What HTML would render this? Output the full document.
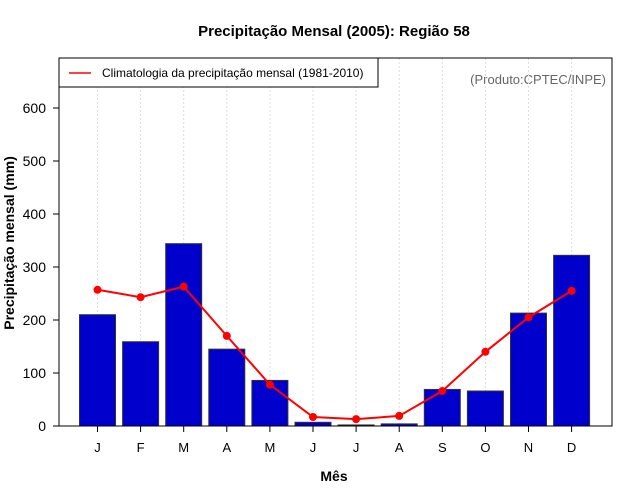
<!DOCTYPE html>
<html><head><meta charset="utf-8"><style>body{margin:0;background:#fff}svg{display:block;font-family:"Liberation Sans",sans-serif}</style></head>
<body>
<svg id="c" width="640" height="500">
<text x="334" y="36" text-anchor="middle" font-size="15" font-weight="bold">Precipitação Mensal (2005): Região 58</text>
<text x="334" y="481" text-anchor="middle" font-size="14" font-weight="bold">Mês</text>
<text transform="translate(14,243) rotate(-90)" text-anchor="middle" font-size="14" font-weight="bold">Precipitação mensal (mm)</text>
<text x="606" y="84" text-anchor="end" font-size="13" fill="#666">(Produto:CPTEC/INPE)</text>
<g id="g"></g>
<rect x="59" y="58" width="553" height="368" fill="none" stroke="#000"/>
<g>
<rect x="59" y="58" width="319" height="29" fill="#fff" stroke="#000"/>
<line x1="69" y1="73" x2="91" y2="73" stroke="red" stroke-width="1.5"/>
<text x="102" y="77" font-size="12">Climatologia da precipitação mensal (1981-2010)</text>
</g>
</svg>
<script>
const months = ["J","F","M","A","M","J","J","A","S","O","N","D"];
const rain2005 = [210,159,344,145,86,7,2,4,69,66,213,322];
const climatology = [257,243,263,170,78,17,13,19,66,140,205,255];
const yTicks = [0,100,200,300,400,500,600];
const NS="http://www.w3.org/2000/svg";
const g=document.getElementById('g');
const x=i=>97.5+i*43.1;
const y=v=>426-v*0.53;
function mk(t,a){const e=document.createElementNS(NS,t);for(const k in a)e.setAttribute(k,a[k]);g.appendChild(e);return e;}
months.forEach((m,i)=>{
  const gl=mk('line',{x1:x(i),x2:x(i),y1:58,y2:426,stroke:'#ddd','stroke-dasharray':'2,2'});
  
  
});
yTicks.forEach(v=>{
  const t=mk('line',{x1:53,x2:59,y1:y(v),y2:y(v),stroke:'#000'});
  
  
  const l=mk('text',{x:46,y:y(v)+5,'text-anchor':'end','font-size':14});
  l.textContent=v;
  
  
});
months.forEach((m,i)=>{
  const b=mk('rect',{x:x(i)-18,y:y(rain2005[i]),width:36,height:rain2005[i]*0.53,fill:'#0000cc',stroke:'#333'});
  
  
  const t=mk('line',{x1:x(i),x2:x(i),y1:426,y2:432,stroke:'#000'});
  
  
  const l=mk('text',{x:x(i),y:452,'text-anchor':'middle','font-size':13});
  l.textContent=m;
  
  
});
const ln=mk('polyline',{points:climatology.map((v,i)=>x(i)+','+y(v)).join(' '),fill:'none',stroke:'red','stroke-width':2});


climatology.forEach((v,i)=>{
  const p=mk('circle',{cx:x(i),cy:y(v),r:4,fill:'red'});
  
  
});
</script>
</body></html>
